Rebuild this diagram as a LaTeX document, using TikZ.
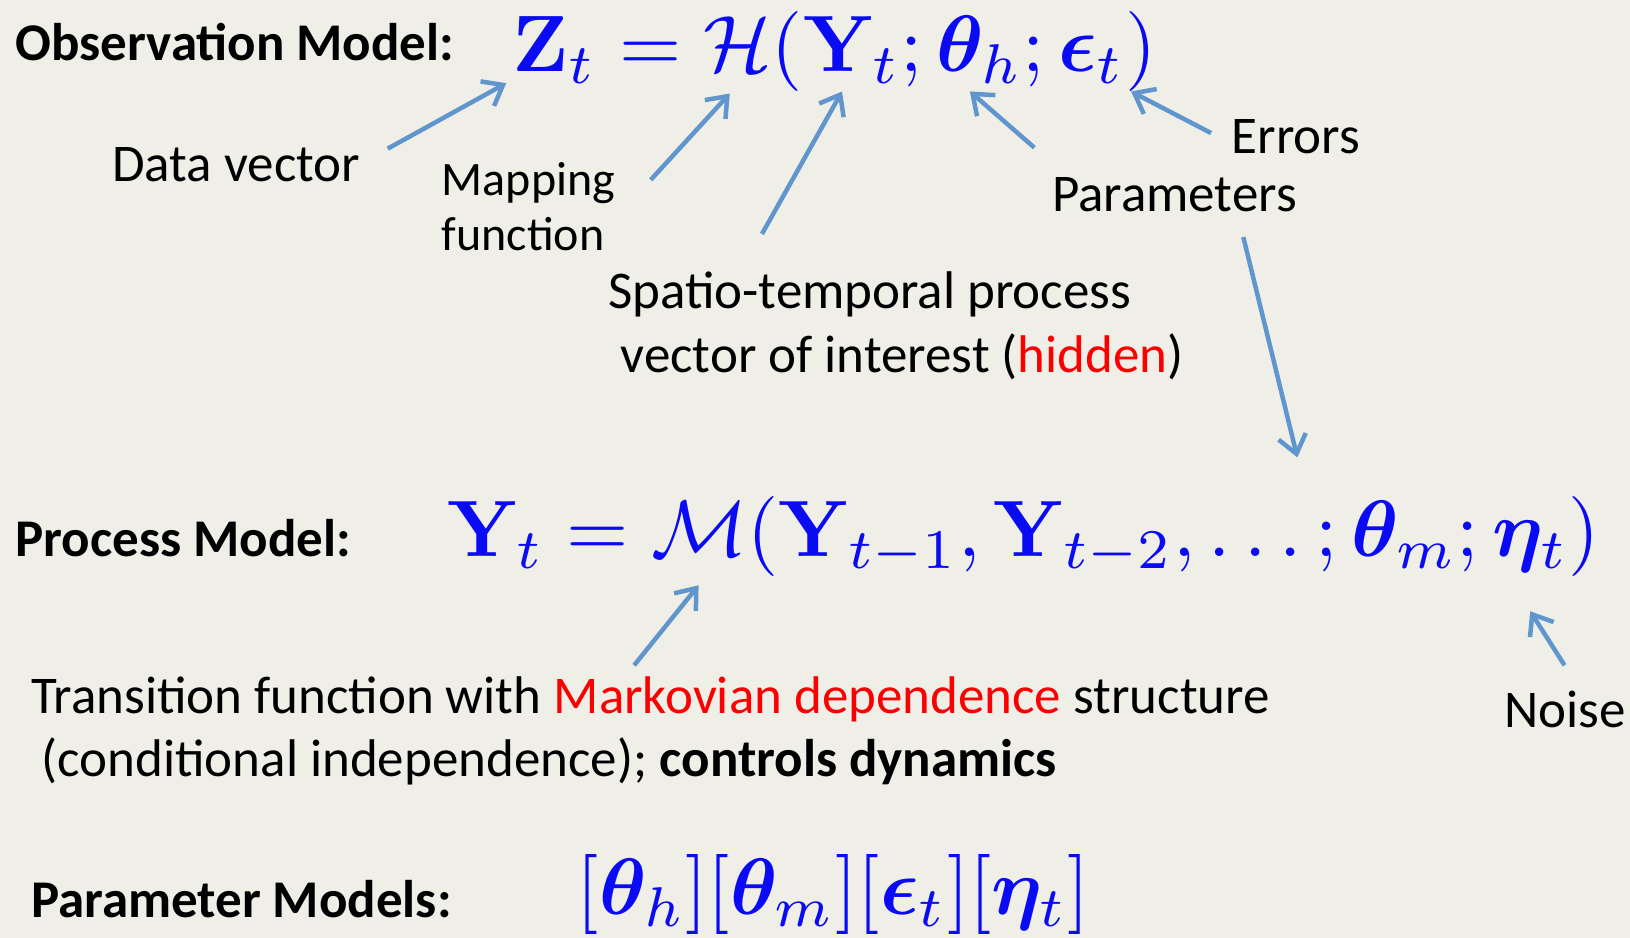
\documentclass[tikz,border=0pt]{standalone}
\usepackage{amsmath,bm,graphicx}
\usepackage[no-math]{fontspec}
\setmainfont{Carlito}
\usetikzlibrary{arrows.meta}
\definecolor{bg}{RGB}{240,239,231}
\definecolor{mblue}{RGB}{10,10,245}
\definecolor{arr}{RGB}{96,150,205}
\definecolor{hred}{RGB}{250,0,0}
\newcommand{\bigmath}[1]{\scalebox{8}{\fontsize{10}{12}\selectfont$#1$}}
\tikzset{
  lbl/.style={anchor=base west,inner sep=0pt,outer sep=0pt,font=\fontsize{53}{62}\selectfont},
  smlbl/.style={lbl,font=\fontsize{48}{56}\selectfont},
  head/.style={lbl,font=\fontsize{53}{62}\selectfont\bfseries},
  eq/.style={anchor=base west,inner sep=0pt,outer sep=0pt,text=mblue},
  pointer/.style={draw=arr,line width=4.5pt,-{Straight Barb[length=18pt,width=28pt,line width=4.5pt]}}
}
\begin{document}
\begin{tikzpicture}[x=1.0395pt,y=-1.0395pt]
\fill[bg] (0,0) rectangle (1568,902);
\useasboundingbox (0,0) rectangle (1568,902);
% headings
\node[head] (obs) at (15,58) {Observation Model:};
\node[head] (proc) at (15,535) {Process Model:};
\node[head] (param) at (30,883) {Parameter Models:};
% equations
\node[eq] (eqobs) at (493,69) {\bigmath{\mathbf{Z}_t=\mathcal{H}(\mathbf{Y}_t;\bm{\theta}_h;\bm{\epsilon}_t)}};
\node[eq] (eqproc) at (430,535) {\bigmath{\mathbf{Y}_t=\mathcal{M}(\mathbf{Y}_{t-1},\mathbf{Y}_{t-2},\ldots;\bm{\theta}_m;\bm{\eta}_t)}};
\node[eq] (eqparam) at (555,880) {\bigmath{[\bm{\theta}_h][\bm{\theta}_m][\bm{\epsilon}_t][\bm{\eta}_t]}};
% labels
\node[lbl] (data) at (108,175) {Data vector};
\node[smlbl] (mapA) at (425,188) {Mapping};
\node[smlbl] (mapB) at (425,241) {function};
\node[lbl] (spA) at (585,297) {Spatio-temporal process};
\node[lbl] (spB) at (597,358) {vector of interest (\textcolor{hred}{hidden})};
\node[lbl] (errors) at (1185,148) {Errors};
\node[lbl] (params) at (1012,203) {Parameters};
\node[lbl] (transA) at (30,686) {Transition function with \textcolor{hred}{Markovian dependence} structure};
\node[lbl] (transB) at (40,747) {(conditional independence); \textbf{controls dynamics}};
\node[lbl] (noise) at (1447,700) {Noise};
% arrow end points
\coordinate (d0) at (373,143); \coordinate (d1) at (487,80);
\coordinate (m0) at (626,173); \coordinate (m1) at (702,90);
\coordinate (s0) at (733,225); \coordinate (s1) at (810,88);
\coordinate (p0) at (995,142); \coordinate (p1) at (933,88);
\coordinate (e0) at (1165,128); \coordinate (e1) at (1088,88);
\coordinate (q0) at (1196,228); \coordinate (q1) at (1248,440);
\coordinate (t0) at (610,640); \coordinate (t1) at (672,563);
\coordinate (n0) at (1505,640); \coordinate (n1) at (1472,588);
\draw[pointer] (d0) -- (d1);
\draw[pointer] (m0) -- (m1);
\draw[pointer] (s0) -- (s1);
\draw[pointer] (p0) -- (p1);
\draw[pointer] (e0) -- (e1);
\draw[pointer] (q0) -- (q1);
\draw[pointer] (t0) -- (t1);
\draw[pointer] (n0) -- (n1);
\end{tikzpicture}
\end{document}
